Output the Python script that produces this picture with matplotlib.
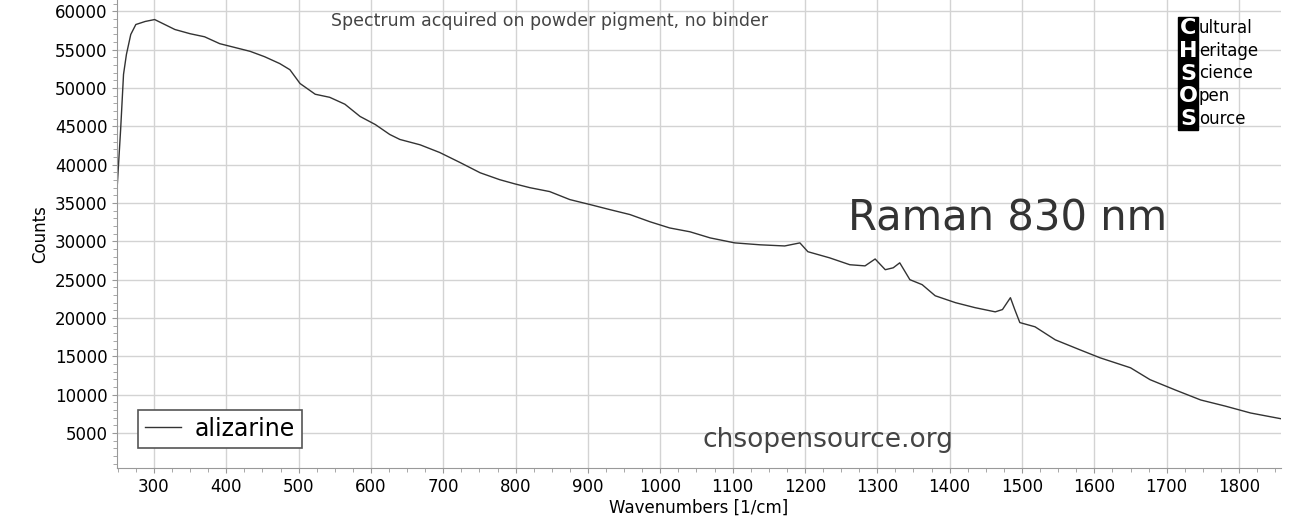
import matplotlib
matplotlib.use("Agg")
import matplotlib.pyplot as plt
from matplotlib.ticker import MultipleLocator

wavenumber = [249,254,258,262,268,275,288,301,315,329,350,370,391,412,433,453,474,488,502,523,543,564,585,606,626,640,668,695,723,751,778,799,820,847,875,903,930,958,986,1013,1041,1069,1103,1138,1172,1193,1204,1234,1262,1283,1297,1311,1322,1331,1345,1362,1380,1408,1435,1463,1473,1484,1490,1497,1518,1546,1580,1608,1650,1677,1712,1747,1781,1816,1858]
counts = [36750,44600,51800,54400,57000,58300,58700,58950,58300,57650,57100,56700,55800,55300,54800,54100,53200,52400,50600,49200,48800,47900,46300,45250,43950,43300,42600,41600,40300,38950,38050,37500,37000,36500,35450,34800,34150,33500,32550,31750,31250,30450,29800,29550,29400,29800,28650,27850,26950,26800,27700,26300,26550,27200,25000,24350,22900,22000,21350,20800,21100,22650,21100,19400,18850,17150,15850,14800,13500,11950,10600,9300,8500,7600,6850]
xticks = [300,400,500,600,700,800,900,1000,1100,1200,1300,1400,1500,1600,1700,1800]
yticks = [5000,10000,15000,20000,25000,30000,35000,40000,45000,50000,55000,60000]

fig = plt.figure(figsize=(12.93,5.24), dpi=100)
ax = fig.add_axes([0.0905, 0.107, 0.9002, 0.893])
ax.plot(wavenumber, counts, color='#333333', lw=1, label='alizarine')
ax.set_xlim(249,1858)
ax.set_ylim(430,61500)
ax.set_xticks(xticks)
ax.set_yticks(yticks)
ax.xaxis.set_minor_locator(MultipleLocator(25))
ax.yaxis.set_minor_locator(MultipleLocator(1000))
ax.grid(True, color='#d3d3d3', lw=1)
ax.set_axisbelow(True)
for s in ['top','right']:
    ax.spines[s].set_visible(False)
for s in ['left','bottom']:
    ax.spines[s].set_color('#999999')
ax.tick_params(which='both', colors='#999999', labelcolor='black', labelsize=12)
ax.tick_params(which='minor', length=3)
ax.set_xlabel('Wavenumbers [1/cm]', fontsize=12, labelpad=2)
ax.set_ylabel('Counts', fontsize=12)
ax.text(0.372, 0.975, 'Spectrum acquired on powder pigment, no binder', transform=ax.transAxes, fontsize=12.5, color='#444444', va='top', ha='center')
ax.text(0.765, 0.534, 'Raman 830 nm', transform=ax.transAxes, fontsize=30, color='#333333', ha='center', va='center')
ax.text(0.611, 0.06, 'chsopensource.org', transform=ax.transAxes, fontsize=19, color='#444444', ha='center', va='center')
# logo
letters = ['C','H','S','O','S']
words = ['ultural','eritage','cience','pen','ource']
fx0, fx1 = 1178/1293, 1198/1293
top, bot = 1-17/524, 1-130/524
fig.patches.append(plt.Rectangle((fx0, bot), fx1-fx0, top-bot, transform=fig.transFigure, color='black', zorder=5))
step = (top-bot)/5
for i,(L,w) in enumerate(zip(letters, words)):
    yc = top - step*(i+0.5)
    fig.text((fx0+fx1)/2, yc, L, color='white', fontsize=16, fontweight='bold', ha='center', va='center', zorder=6)
    fig.text(fx1+0.0005, yc, w, color='black', fontsize=12, ha='left', va='center', zorder=6)
leg = ax.legend(loc='lower left', bbox_to_anchor=(0.008, 0.018), fontsize=17, fancybox=False, edgecolor='#555555', handlelength=1.5, framealpha=1, borderpad=0.3, handletextpad=0.6)
leg.get_frame().set_linewidth(1.2)
fig.savefig('out.png', dpi=100)
